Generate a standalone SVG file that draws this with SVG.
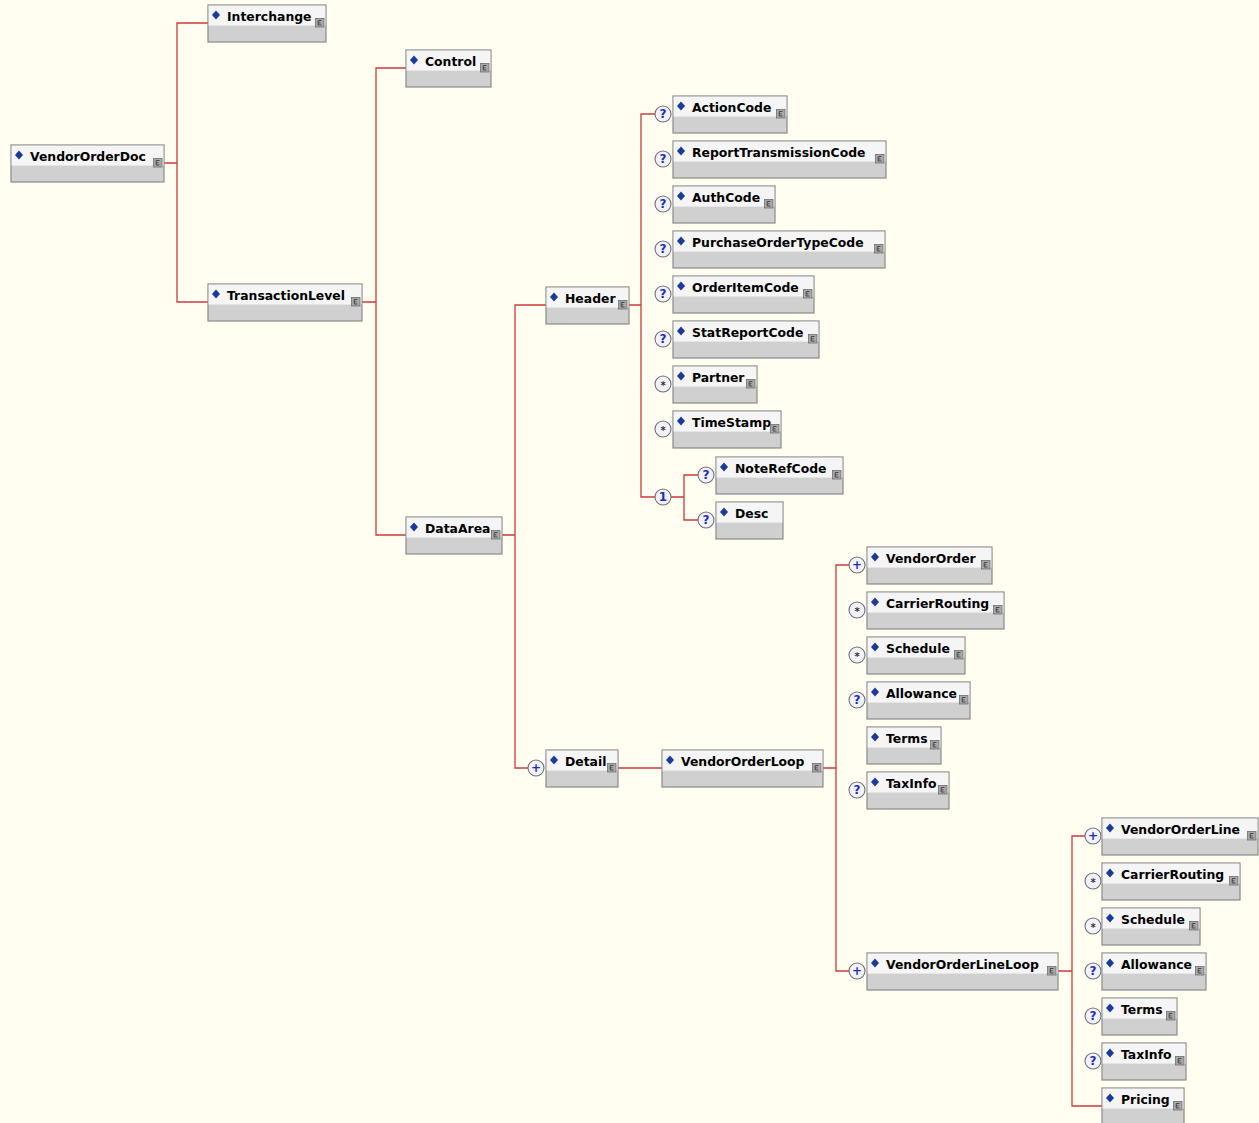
<svg xmlns="http://www.w3.org/2000/svg" xmlns:xlink="http://www.w3.org/1999/xlink" width="1259" height="1123" viewBox="0 0 1259 1123">
<style>
.bg{fill:#FFFEF0}
.box{fill:#D0D0D0;stroke:#8A8A8A;stroke-width:1.2}
.top{fill:#F5F5F5}
.dia{fill:#1A3A9A}
.lbl{font-family:"DejaVu Sans","Liberation Sans",sans-serif;font-weight:bold;font-size:12.4px;fill:#000}
.con{fill:none;stroke:#CC3A3A;stroke-width:1.3}
.cir{fill:#F2F2F8;stroke:#707080;stroke-width:1.1}
.sym{font-family:"DejaVu Sans","Liberation Sans",sans-serif;font-weight:bold;font-size:12px;fill:#1C2EB8;text-anchor:middle}
.star{font-family:"DejaVu Sans","Liberation Sans",sans-serif;font-weight:bold;font-size:10px;fill:#333;text-anchor:middle}
</style>
<defs>
<g id="ic">
<rect x="0.5" y="0.5" width="8.5" height="8.5" fill="#A9A9A9" stroke="#6E6E6E" stroke-width="0.8"/>
<path d="M6.5,2.5 H3.2 V7 H6.5 M3.2,4.8 H5.5" fill="none" stroke="#3E3E3E" stroke-width="0.9"/>
</g>
<g id="q"><circle class="cir" r="8"/><text class="sym" y="4.3">?</text></g>
<g id="s"><circle class="cir" r="8"/><text class="star" y="4.5">*</text></g>
<g id="p"><circle class="cir" r="8"/><text class="sym" y="4.3">+</text></g>
</defs>
<rect class="bg" width="1259" height="1123"/>

<g id="connectors">
<path class="con" d="M164,163 H177 M208,23 H177 V302 H208"/>
<path class="con" d="M362,302 H376 M406,68 H376 V535 H406"/>
<path class="con" d="M502,535 H515 M546,305 H515 V768 H528"/>
<path class="con" d="M629,305 H641 M655,114 H641 V497 H655"/>
<path class="con" d="M671,497 H684 M698,475 H684 V520 H698"/>
<path class="con" d="M618,768 H662"/>
<path class="con" d="M823,768 H836 M849,565 H836 V971 H849"/>
<path class="con" d="M1058,971 H1072 M1085,836 H1072 V1106 H1102"/>
</g>

<g id="markers">
<use xlink:href="#p" x="536" y="768"/>
<use xlink:href="#q" x="663" y="114"/>
<use xlink:href="#q" x="663" y="159"/>
<use xlink:href="#q" x="663" y="204"/>
<use xlink:href="#q" x="663" y="249"/>
<use xlink:href="#q" x="663" y="294"/>
<use xlink:href="#q" x="663" y="339"/>
<use xlink:href="#s" x="663" y="384"/>
<use xlink:href="#s" x="663" y="429"/>
<g id="choice" transform="translate(663,497)"><circle class="cir" r="8"/><text class="sym" y="4.3">1</text></g>
<use xlink:href="#q" x="706" y="475"/>
<use xlink:href="#q" x="706" y="520"/>
<use xlink:href="#p" x="857" y="565"/>
<use xlink:href="#s" x="857" y="610"/>
<use xlink:href="#s" x="857" y="655"/>
<use xlink:href="#q" x="857" y="700"/>
<use xlink:href="#q" x="857" y="790"/>
<use xlink:href="#p" x="857" y="971"/>
<use xlink:href="#p" x="1093" y="836"/>
<use xlink:href="#s" x="1093" y="881"/>
<use xlink:href="#s" x="1093" y="926"/>
<use xlink:href="#q" x="1093" y="971"/>
<use xlink:href="#q" x="1093" y="1016"/>
<use xlink:href="#q" x="1093" y="1061"/>
</g>

<g id="n1" transform="translate(11,145)"><rect class="box" width="153" height="37"/><rect class="top" x="0.6" y="0.6" width="151.8" height="20"/><path class="dia" d="M8,5.5 l4,4.5 -4,4.5 -4,-4.5z"/><text class="lbl" x="19" y="16">VendorOrderDoc</text><use xlink:href="#ic" x="142" y="13"/></g>
<g id="n2" transform="translate(208,5)"><rect class="box" width="118" height="37"/><rect class="top" x="0.6" y="0.6" width="116.8" height="20"/><path class="dia" d="M8,5.5 l4,4.5 -4,4.5 -4,-4.5z"/><text class="lbl" x="19" y="16">Interchange</text><use xlink:href="#ic" x="107" y="13"/></g>
<g id="n3" transform="translate(208,284)"><rect class="box" width="154" height="37"/><rect class="top" x="0.6" y="0.6" width="152.8" height="20"/><path class="dia" d="M8,5.5 l4,4.5 -4,4.5 -4,-4.5z"/><text class="lbl" x="19" y="16">TransactionLevel</text><use xlink:href="#ic" x="143" y="13"/></g>
<g id="n4" transform="translate(406,50)"><rect class="box" width="85" height="37"/><rect class="top" x="0.6" y="0.6" width="83.8" height="20"/><path class="dia" d="M8,5.5 l4,4.5 -4,4.5 -4,-4.5z"/><text class="lbl" x="19" y="16">Control</text><use xlink:href="#ic" x="74" y="13"/></g>
<g id="n5" transform="translate(406,517)"><rect class="box" width="96" height="37"/><rect class="top" x="0.6" y="0.6" width="94.8" height="20"/><path class="dia" d="M8,5.5 l4,4.5 -4,4.5 -4,-4.5z"/><text class="lbl" x="19" y="16">DataArea</text><use xlink:href="#ic" x="85" y="13"/></g>
<g id="n6" transform="translate(546,287)"><rect class="box" width="83" height="37"/><rect class="top" x="0.6" y="0.6" width="81.8" height="20"/><path class="dia" d="M8,5.5 l4,4.5 -4,4.5 -4,-4.5z"/><text class="lbl" x="19" y="16">Header</text><use xlink:href="#ic" x="72" y="13"/></g>
<g id="n7" transform="translate(546,750)"><rect class="box" width="72" height="37"/><rect class="top" x="0.6" y="0.6" width="70.8" height="20"/><path class="dia" d="M8,5.5 l4,4.5 -4,4.5 -4,-4.5z"/><text class="lbl" x="19" y="16">Detail</text><use xlink:href="#ic" x="61" y="13"/></g>
<g id="n8" transform="translate(673,96)"><rect class="box" width="114" height="37"/><rect class="top" x="0.6" y="0.6" width="112.8" height="20"/><path class="dia" d="M8,5.5 l4,4.5 -4,4.5 -4,-4.5z"/><text class="lbl" x="19" y="16">ActionCode</text><use xlink:href="#ic" x="103" y="13"/></g>
<g id="n9" transform="translate(673,141)"><rect class="box" width="213" height="37"/><rect class="top" x="0.6" y="0.6" width="211.8" height="20"/><path class="dia" d="M8,5.5 l4,4.5 -4,4.5 -4,-4.5z"/><text class="lbl" x="19" y="16">ReportTransmissionCode</text><use xlink:href="#ic" x="202" y="13"/></g>
<g id="n10" transform="translate(673,186)"><rect class="box" width="102" height="37"/><rect class="top" x="0.6" y="0.6" width="100.8" height="20"/><path class="dia" d="M8,5.5 l4,4.5 -4,4.5 -4,-4.5z"/><text class="lbl" x="19" y="16">AuthCode</text><use xlink:href="#ic" x="91" y="13"/></g>
<g id="n11" transform="translate(673,231)"><rect class="box" width="212" height="37"/><rect class="top" x="0.6" y="0.6" width="210.8" height="20"/><path class="dia" d="M8,5.5 l4,4.5 -4,4.5 -4,-4.5z"/><text class="lbl" x="19" y="16">PurchaseOrderTypeCode</text><use xlink:href="#ic" x="201" y="13"/></g>
<g id="n12" transform="translate(673,276)"><rect class="box" width="141" height="37"/><rect class="top" x="0.6" y="0.6" width="139.8" height="20"/><path class="dia" d="M8,5.5 l4,4.5 -4,4.5 -4,-4.5z"/><text class="lbl" x="19" y="16">OrderItemCode</text><use xlink:href="#ic" x="130" y="13"/></g>
<g id="n13" transform="translate(673,321)"><rect class="box" width="146" height="37"/><rect class="top" x="0.6" y="0.6" width="144.8" height="20"/><path class="dia" d="M8,5.5 l4,4.5 -4,4.5 -4,-4.5z"/><text class="lbl" x="19" y="16">StatReportCode</text><use xlink:href="#ic" x="135" y="13"/></g>
<g id="n14" transform="translate(673,366)"><rect class="box" width="84" height="37"/><rect class="top" x="0.6" y="0.6" width="82.8" height="20"/><path class="dia" d="M8,5.5 l4,4.5 -4,4.5 -4,-4.5z"/><text class="lbl" x="19" y="16">Partner</text><use xlink:href="#ic" x="73" y="13"/></g>
<g id="n15" transform="translate(673,411)"><rect class="box" width="108" height="37"/><rect class="top" x="0.6" y="0.6" width="106.8" height="20"/><path class="dia" d="M8,5.5 l4,4.5 -4,4.5 -4,-4.5z"/><text class="lbl" x="19" y="16">TimeStamp</text><use xlink:href="#ic" x="97" y="13"/></g>
<g id="n16" transform="translate(716,457)"><rect class="box" width="127" height="37"/><rect class="top" x="0.6" y="0.6" width="125.8" height="20"/><path class="dia" d="M8,5.5 l4,4.5 -4,4.5 -4,-4.5z"/><text class="lbl" x="19" y="16">NoteRefCode</text><use xlink:href="#ic" x="116" y="13"/></g>
<g id="n17" transform="translate(716,502)"><rect class="box" width="67" height="37"/><rect class="top" x="0.6" y="0.6" width="65.8" height="20"/><path class="dia" d="M8,5.5 l4,4.5 -4,4.5 -4,-4.5z"/><text class="lbl" x="19" y="16">Desc</text></g>
<g id="n18" transform="translate(662,750)"><rect class="box" width="161" height="37"/><rect class="top" x="0.6" y="0.6" width="159.8" height="20"/><path class="dia" d="M8,5.5 l4,4.5 -4,4.5 -4,-4.5z"/><text class="lbl" x="19" y="16">VendorOrderLoop</text><use xlink:href="#ic" x="150" y="13"/></g>
<g id="n19" transform="translate(867,547)"><rect class="box" width="125" height="37"/><rect class="top" x="0.6" y="0.6" width="123.8" height="20"/><path class="dia" d="M8,5.5 l4,4.5 -4,4.5 -4,-4.5z"/><text class="lbl" x="19" y="16">VendorOrder</text><use xlink:href="#ic" x="114" y="13"/></g>
<g id="n20" transform="translate(867,592)"><rect class="box" width="137" height="37"/><rect class="top" x="0.6" y="0.6" width="135.8" height="20"/><path class="dia" d="M8,5.5 l4,4.5 -4,4.5 -4,-4.5z"/><text class="lbl" x="19" y="16">CarrierRouting</text><use xlink:href="#ic" x="126" y="13"/></g>
<g id="n21" transform="translate(867,637)"><rect class="box" width="98" height="37"/><rect class="top" x="0.6" y="0.6" width="96.8" height="20"/><path class="dia" d="M8,5.5 l4,4.5 -4,4.5 -4,-4.5z"/><text class="lbl" x="19" y="16">Schedule</text><use xlink:href="#ic" x="87" y="13"/></g>
<g id="n22" transform="translate(867,682)"><rect class="box" width="103" height="37"/><rect class="top" x="0.6" y="0.6" width="101.8" height="20"/><path class="dia" d="M8,5.5 l4,4.5 -4,4.5 -4,-4.5z"/><text class="lbl" x="19" y="16">Allowance</text><use xlink:href="#ic" x="92" y="13"/></g>
<g id="n23" transform="translate(867,727)"><rect class="box" width="74" height="37"/><rect class="top" x="0.6" y="0.6" width="72.8" height="20"/><path class="dia" d="M8,5.5 l4,4.5 -4,4.5 -4,-4.5z"/><text class="lbl" x="19" y="16">Terms</text><use xlink:href="#ic" x="63" y="13"/></g>
<g id="n24" transform="translate(867,772)"><rect class="box" width="82" height="37"/><rect class="top" x="0.6" y="0.6" width="80.8" height="20"/><path class="dia" d="M8,5.5 l4,4.5 -4,4.5 -4,-4.5z"/><text class="lbl" x="19" y="16">TaxInfo</text><use xlink:href="#ic" x="71" y="13"/></g>
<g id="n25" transform="translate(867,953)"><rect class="box" width="191" height="37"/><rect class="top" x="0.6" y="0.6" width="189.8" height="20"/><path class="dia" d="M8,5.5 l4,4.5 -4,4.5 -4,-4.5z"/><text class="lbl" x="19" y="16">VendorOrderLineLoop</text><use xlink:href="#ic" x="180" y="13"/></g>
<g id="n26" transform="translate(1102,818)"><rect class="box" width="156" height="37"/><rect class="top" x="0.6" y="0.6" width="154.8" height="20"/><path class="dia" d="M8,5.5 l4,4.5 -4,4.5 -4,-4.5z"/><text class="lbl" x="19" y="16">VendorOrderLine</text><use xlink:href="#ic" x="145" y="13"/></g>
<g id="n27" transform="translate(1102,863)"><rect class="box" width="138" height="37"/><rect class="top" x="0.6" y="0.6" width="136.8" height="20"/><path class="dia" d="M8,5.5 l4,4.5 -4,4.5 -4,-4.5z"/><text class="lbl" x="19" y="16">CarrierRouting</text><use xlink:href="#ic" x="127" y="13"/></g>
<g id="n28" transform="translate(1102,908)"><rect class="box" width="98" height="37"/><rect class="top" x="0.6" y="0.6" width="96.8" height="20"/><path class="dia" d="M8,5.5 l4,4.5 -4,4.5 -4,-4.5z"/><text class="lbl" x="19" y="16">Schedule</text><use xlink:href="#ic" x="87" y="13"/></g>
<g id="n29" transform="translate(1102,953)"><rect class="box" width="104" height="37"/><rect class="top" x="0.6" y="0.6" width="102.8" height="20"/><path class="dia" d="M8,5.5 l4,4.5 -4,4.5 -4,-4.5z"/><text class="lbl" x="19" y="16">Allowance</text><use xlink:href="#ic" x="93" y="13"/></g>
<g id="n30" transform="translate(1102,998)"><rect class="box" width="75" height="37"/><rect class="top" x="0.6" y="0.6" width="73.8" height="20"/><path class="dia" d="M8,5.5 l4,4.5 -4,4.5 -4,-4.5z"/><text class="lbl" x="19" y="16">Terms</text><use xlink:href="#ic" x="64" y="13"/></g>
<g id="n31" transform="translate(1102,1043)"><rect class="box" width="84" height="37"/><rect class="top" x="0.6" y="0.6" width="82.8" height="20"/><path class="dia" d="M8,5.5 l4,4.5 -4,4.5 -4,-4.5z"/><text class="lbl" x="19" y="16">TaxInfo</text><use xlink:href="#ic" x="73" y="13"/></g>
<g id="n32" transform="translate(1102,1088)"><rect class="box" width="82" height="37"/><rect class="top" x="0.6" y="0.6" width="80.8" height="20"/><path class="dia" d="M8,5.5 l4,4.5 -4,4.5 -4,-4.5z"/><text class="lbl" x="19" y="16">Pricing</text><use xlink:href="#ic" x="71" y="13"/></g>
</svg>
